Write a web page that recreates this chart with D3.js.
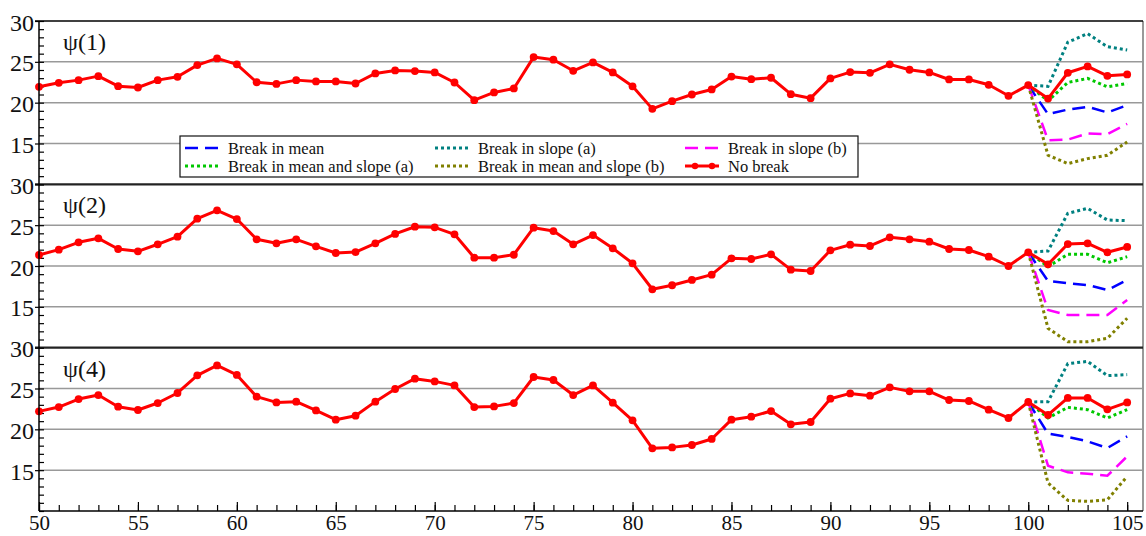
<!DOCTYPE html>
<html>
<head>
<meta charset="utf-8">
<script src="https://cdn.jsdelivr.net/npm/d3@7"></script>
<style>
  body { margin: 0; background: #fff; }
  svg { display: block; }
</style>
</head>
<body>
<script>
const width = 1146;
const height = 536;
const plotLeft = 39, plotRight = 1143, plotTop = 21, plotBottom = 511;

// x values are periods 50..105
const periods = d3.range(50, 106);
const breakPeriods = [100, 101, 102, 103, 104, 105];
const panelLabels = ["ψ(1)", "ψ(2)", "ψ(4)"];
const yTickLabels = [15, 20, 25, 30];
const gridValues = [15, 20, 25];

// No break series, one per panel (periods 50..105)
const noBreak1 = [21.94, 22.43, 22.76, 23.25, 22.02, 21.86, 22.76, 23.17, 24.6, 25.42,
  24.69, 22.5, 22.3, 22.76, 22.6, 22.6, 22.35, 23.58, 23.95, 23.87,
  23.7, 22.47, 20.3, 21.25, 21.74, 25.58, 25.26, 23.9, 24.93, 23.7,
  22.0, 19.24, 20.18, 21.0, 21.62, 23.2, 22.88, 23.05, 21.04, 20.55,
  22.97, 23.74, 23.66, 24.69, 24.03, 23.7, 22.84, 22.84, 22.19, 20.84,
  22.15, 20.5, 23.66, 24.44, 23.29, 23.46];
const noBreak2 = [21.35, 22.0, 22.9, 23.39, 22.08, 21.8, 22.66, 23.59, 25.79, 26.82,
  25.75, 23.27, 22.78, 23.27, 22.41, 21.59, 21.71, 22.78, 23.93, 24.81,
  24.73, 23.88, 21.02, 21.02, 21.38, 24.69, 24.28, 22.66, 23.79, 22.17,
  20.33, 17.15, 17.64, 18.29, 18.94, 20.94, 20.86, 21.43, 19.55, 19.39,
  21.92, 22.61, 22.45, 23.51, 23.27, 22.98, 22.08, 21.96, 21.14, 20.0,
  21.68, 20.21, 22.69, 22.78, 21.68, 22.33];
const noBreak3 = [22.2, 22.73, 23.71, 24.2, 22.77, 22.37, 23.22, 24.45, 26.61, 27.83,
  26.66, 24.0, 23.3, 23.39, 22.32, 21.18, 21.67, 23.39, 24.94, 26.2,
  25.87, 25.38, 22.73, 22.81, 23.22, 26.41, 26.04, 24.2, 25.38, 23.26,
  21.1, 17.67, 17.79, 18.08, 18.82, 21.18, 21.55, 22.24, 20.61, 20.9,
  23.75, 24.4, 24.12, 25.14, 24.65, 24.65, 23.59, 23.47, 22.41, 21.39,
  23.35, 21.76, 23.84, 23.84, 22.45, 23.3];

// Break scenarios, periods 100..105
const breakMean1 = [22.15, 18.59, 19.16, 19.49, 18.8, 19.7];
const breakMean2 = [21.68, 18.16, 17.88, 17.67, 17.06, 18.29];
const breakMean3 = [23.35, 19.47, 19.06, 18.53, 17.72, 19.14];

const slopeA1 = [22.15, 22.0, 27.4, 28.45, 26.85, 26.44];
const slopeA2 = [21.68, 21.84, 26.45, 27.06, 25.63, 25.55];
const slopeA3 = [23.35, 23.39, 28.04, 28.32, 26.57, 26.7];

const slopeB1 = [22.15, 15.4, 15.48, 16.22, 16.14, 17.4];
const slopeB2 = [21.68, 14.61, 14.0, 14.0, 14.0, 15.84];
const slopeB3 = [23.35, 15.55, 14.73, 14.57, 14.32, 16.69];

const meanSlopeA1 = [22.15, 20.22, 22.47, 22.97, 21.94, 22.35];
const meanSlopeA2 = [21.68, 19.92, 21.43, 21.43, 20.4, 21.14];
const meanSlopeA3 = [23.35, 21.39, 22.69, 22.41, 21.39, 22.41];

const meanSlopeB1 = [22.15, 13.56, 12.54, 13.15, 13.56, 15.19];
const meanSlopeB2 = [21.68, 12.37, 10.73, 10.73, 11.15, 13.6];
const meanSlopeB3 = [23.35, 13.43, 11.3, 11.18, 11.38, 14.24];

const seriesNames = ["Break in mean", "Break in slope (a)", "Break in slope (b)",
  "Break in mean and slope (a)", "Break in mean and slope (b)", "No break"];

const styles = {
  "Break in mean": {color: "#0000ff", dash: "13,7", w: 2.5},
  "Break in slope (a)": {color: "#008080", dash: "3,3", w: 3},
  "Break in slope (b)": {color: "#ff00ff", dash: "13,7", w: 2.5},
  "Break in mean and slope (a)": {color: "#00c800", dash: "3,3", w: 3},
  "Break in mean and slope (b)": {color: "#808000", dash: "3,3", w: 3},
  "No break": {color: "#ff0000", dash: null, w: 3}
};

const panels = [
  {label: panelLabels[0], noBreak: noBreak1,
   breaks: [breakMean1, slopeA1, slopeB1, meanSlopeA1, meanSlopeB1]},
  {label: panelLabels[1], noBreak: noBreak2,
   breaks: [breakMean2, slopeA2, slopeB2, meanSlopeA2, meanSlopeB2]},
  {label: panelLabels[2], noBreak: noBreak3,
   breaks: [breakMean3, slopeA3, slopeB3, meanSlopeA3, meanSlopeB3]}
];

const font = "'Liberation Serif', 'Times New Roman', serif";

const svg = d3.select("body").append("svg")
  .attr("width", width)
  .attr("height", height)
  .style("background", "#fff");

const x = d3.scaleLinear().domain([50, 105.8]).range([plotLeft, plotRight]);
const ph = (plotBottom - plotTop) / 3;

const line = (ys, xs) => d3.line()
  .x((d, i) => x(xs[i]))
  .y((d) => ys(d));

// right border
svg.append("line")
  .attr("x1", plotRight).attr("x2", plotRight)
  .attr("y1", plotTop).attr("y2", plotBottom)
  .attr("stroke", "#555").attr("stroke-width", 1.2);

panels.forEach((p, k) => {
  const t = plotTop + k * ph;
  const y = d3.scaleLinear().domain([10, 30]).range([t + ph, t]);
  const g = svg.append("g");

  g.selectAll("line.grid")
    .data(gridValues)
    .enter().append("line")
    .attr("class", "grid")
    .attr("x1", plotLeft).attr("x2", plotRight)
    .attr("y1", (d) => y(d)).attr("y2", (d) => y(d))
    .attr("stroke", "#999").attr("stroke-width", 1.5);

  // top border of panel
  g.append("line")
    .attr("x1", plotLeft - 4).attr("x2", plotRight)
    .attr("y1", y(30)).attr("y2", y(30))
    .attr("stroke", k === 0 ? "#000" : "#222")
    .attr("stroke-width", k === 0 ? 1.5 : 2.2);

  // minor ticks inward
  g.append("g")
    .attr("transform", "translate(" + plotLeft + ",0)")
    .call(d3.axisRight(y).tickValues(d3.range(10, 31)).tickSize(5).tickFormat(""))
    .call((a) => a.select(".domain").remove())
    .call((a) => a.selectAll("line").attr("stroke-width", 1.2));

  // major ticks + labels
  g.append("g")
    .attr("transform", "translate(" + plotLeft + ",0)")
    .call(d3.axisLeft(y).tickValues(yTickLabels).tickSize(4).tickPadding(1))
    .call((a) => a.select(".domain").remove())
    .call((a) => a.selectAll("line").attr("stroke-width", 1.2))
    .call((a) => a.selectAll("text")
      .attr("font-family", font)
      .attr("font-size", 24)
      .attr("dy", "0.38em")
      .attr("fill", "#111"));

  // break scenario lines
  p.breaks.forEach((vals, j) => {
    const st = styles[seriesNames[j]];
    g.append("path")
      .datum(vals)
      .attr("d", line(y, breakPeriods))
      .attr("fill", "none")
      .attr("stroke", st.color)
      .attr("stroke-width", st.w)
      .attr("stroke-dasharray", st.dash);
  });

  // no break line with markers
  g.append("path")
    .datum(p.noBreak)
    .attr("d", line(y, periods))
    .attr("fill", "none")
    .attr("stroke", styles["No break"].color)
    .attr("stroke-width", 3)
    .attr("stroke-linejoin", "round");

  g.selectAll("circle")
    .data(p.noBreak)
    .enter().append("circle")
    .attr("cx", (d, i) => x(periods[i]))
    .attr("cy", (d) => y(d))
    .attr("r", 3.9)
    .attr("fill", styles["No break"].color);

  g.append("text")
    .attr("x", 63)
    .attr("y", t + 29)
    .attr("font-family", font)
    .attr("font-size", 24)
    .attr("fill", "#111")
    .text(p.label);
});

// left axis line
svg.append("line")
  .attr("x1", plotLeft).attr("x2", plotLeft)
  .attr("y1", plotTop).attr("y2", plotBottom)
  .attr("stroke", "#000").attr("stroke-width", 1.5);

// x axis
const xg = svg.append("g").attr("transform", "translate(0," + plotBottom + ")");
xg.append("g")
  .call(d3.axisTop(x).tickValues(periods).tickSize(6).tickFormat(""))
  .call((a) => a.select(".domain").remove())
  .call((a) => a.selectAll("line").attr("stroke-width", 1.2));
xg.append("g")
  .call(d3.axisTop(x).tickValues(periods.filter((d) => d % 5 === 0)).tickSize(9).tickFormat(""))
  .call((a) => a.select(".domain").remove())
  .call((a) => a.selectAll("line").attr("stroke-width", 1.2));
xg.append("g")
  .call(d3.axisBottom(x).tickValues(periods.filter((d) => d % 5 === 0)).tickSize(0).tickPadding(4))
  .call((a) => a.select(".domain").remove())
  .call((a) => a.selectAll("text")
    .attr("font-family", font)
    .attr("font-size", 21)
    .attr("fill", "#111"));
xg.append("line")
  .attr("x1", plotLeft).attr("x2", plotRight)
  .attr("stroke", "#000").attr("stroke-width", 1.5);

// legend
const legend = svg.append("g");
legend.append("rect")
  .attr("x", 180).attr("y", 136)
  .attr("width", 678).attr("height", 41)
  .attr("fill", "#fff")
  .attr("stroke", "#111").attr("stroke-width", 1.2);

const legendCols = [185, 435, 685];
const legendRows = [148, 166];

seriesNames.forEach((name, i) => {
  const st = styles[name];
  const cx = legendCols[i % 3];
  const cy = legendRows[Math.floor(i / 3)];
  const item = legend.append("g");
  item.append("line")
    .attr("x1", cx).attr("x2", cx + 34)
    .attr("y1", cy).attr("y2", cy)
    .attr("stroke", st.color)
    .attr("stroke-width", st.w)
    .attr("stroke-dasharray", st.dash);
  if (name === "No break") {
    item.selectAll("circle")
      .data([cx + 10, cx + 27])
      .enter().append("circle")
      .attr("cx", (d) => d).attr("cy", cy)
      .attr("r", 3.2).attr("fill", st.color);
  }
  item.append("text")
    .attr("x", cx + 43)
    .attr("y", cy + 5.5)
    .attr("font-family", font)
    .attr("font-size", 16.5)
    .attr("fill", "#111")
    .text(name);
});
</script>
</body>
</html>
